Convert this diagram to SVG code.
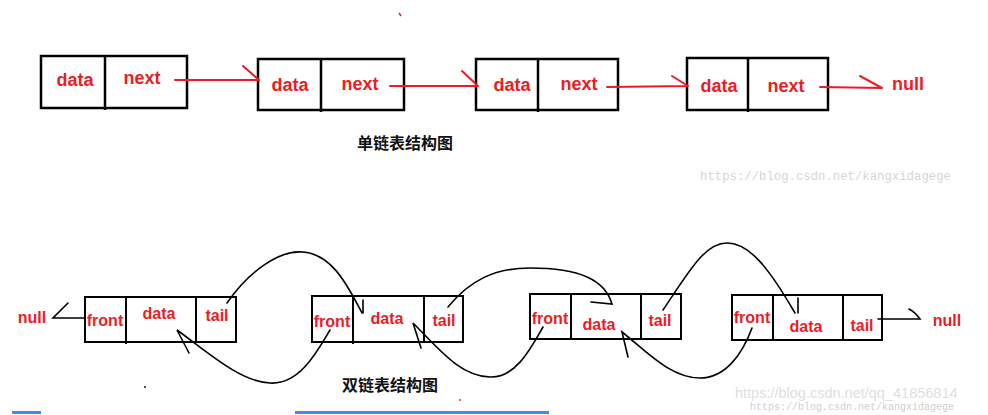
<svg xmlns="http://www.w3.org/2000/svg" width="988" height="415" viewBox="0 0 988 415">
<style>
.box{fill:none;stroke:#000;stroke-width:2.5}
.box2{fill:none;stroke:#000;stroke-width:2}
.t{font-family:"Liberation Sans",Arial,sans-serif;font-weight:bold;fill:#ed1c24;text-anchor:middle;dominant-baseline:central}
.t1{font-size:18px}
.t2{font-size:16px}
.red{fill:none;stroke:#ed1c24;stroke-width:2;stroke-linecap:round}
.blk{fill:none;stroke:#000;stroke-width:1.6;stroke-linecap:round}
.title{font-family:"Noto Sans CJK SC","Noto Sans",sans-serif;font-weight:bold;font-size:16px;fill:#111;text-anchor:middle}
.wm{font-family:"Liberation Mono",monospace;font-size:12.3px;fill:#d6d6d6}
</style>
<rect width="988" height="415" fill="#fff"/>
<g id="s1"><rect class="box" x="41" y="56" width="146" height="52"/><line class="box" x1="105" y1="56" x2="105" y2="110"/><text class="t t1" x="75" y="80">data</text><text class="t t1" x="142" y="78">next</text></g>
<g id="s2"><rect class="box" x="258" y="59" width="146" height="51"/><line class="box" x1="321" y1="59" x2="321" y2="112"/><text class="t t1" x="290" y="85">data</text><text class="t t1" x="360" y="84">next</text></g>
<g id="s3"><rect class="box" x="476" y="59" width="142" height="51"/><line class="box" x1="538" y1="59" x2="538" y2="112"/><text class="t t1" x="512" y="85">data</text><text class="t t1" x="579" y="84">next</text></g>
<g id="s4"><rect class="box" x="687" y="58" width="141" height="52"/><line class="box" x1="748" y1="58" x2="748" y2="112"/><text class="t t1" x="719" y="86">data</text><text class="t t1" x="786" y="86">next</text></g>
<g id="snull"><text class="t t1" x="908" y="84">null</text></g>
<g id="dA"><rect class="box2" x="85" y="297" width="151" height="45"/><line class="box2" x1="126" y1="297" x2="126" y2="344"/><line class="box2" x1="196" y1="297" x2="196" y2="342"/><text class="t t2" x="105" y="320">front</text><text class="t t2" x="159" y="313">data</text><text class="t t2" x="217" y="315">tail</text></g>
<g id="dB"><rect class="box2" x="312" y="296" width="151" height="46"/><line class="box2" x1="353" y1="296" x2="353" y2="344"/><line class="box2" x1="424" y1="296" x2="424" y2="342"/><text class="t t2" x="332" y="321">front</text><text class="t t2" x="387" y="318">data</text><text class="t t2" x="444" y="320">tail</text></g>
<g id="dC"><rect class="box2" x="530" y="294" width="151" height="45"/><line class="box2" x1="571" y1="294" x2="571" y2="340"/><line class="box2" x1="641" y1="294" x2="641" y2="339"/><text class="t t2" x="550" y="318">front</text><text class="t t2" x="599" y="324">data</text><text class="t t2" x="660" y="320">tail</text></g>
<g id="dD"><rect class="box2" x="732" y="295" width="150" height="45"/><line class="box2" x1="773" y1="295" x2="773" y2="341"/><line class="box2" x1="843" y1="295" x2="843" y2="340"/><text class="t t2" x="752" y="317">front</text><text class="t t2" x="806" y="326">data</text><text class="t t2" x="862" y="325">tail</text></g>
<g id="dnullL"><text class="t t2" x="32" y="317">null</text></g>
<g id="dnullR"><text class="t t2" x="947" y="320">null</text></g>
<g id="connectors">
<path class="red" d="M175 80 L259 80 M243 66 L259 80"/>
<path class="red" d="M390 86 L478 86 M462 71 L478 86"/>
<path class="red" d="M607 87 L688 86 M672 76 L688 86"/>
<path class="red" d="M820 87 L882 88 M860 76 L882 88"/>
<path class="blk" d="M85 318 L53 318 L68 303"/>
<path class="blk" d="M878 319 L920 319 Q915 312 909 309"/>
<path class="blk" d="M227 303 C250 270 280 250 303 252 C330 254 345 280 362 313 M363 300 L363 313"/>
<path class="blk" d="M330 330 C318 350 300 385 270 383 C240 382 205 350 177 330 L189 353"/>
<path class="blk" d="M448 307 C470 280 495 268 530 268 C580 268 605 280 612 304 L591 302"/>
<path class="blk" d="M543 327 C530 350 515 378 490 377 C460 376 440 350 413 323 L421 348"/>
<path class="blk" d="M663 310 C690 270 705 243 727 243 C750 243 770 270 795 313 M798 298 L798 313"/>
<path class="blk" d="M752 328 C742 355 725 378 700 378 C670 378 645 350 622 332 L628 357"/>
</g>
<text class="title" x="405" y="149">单链表结构图</text>
<text class="title" x="390" y="391">双链表结构图</text>
<text class="wm" x="700" y="180">https://blog.csdn.net/kangxidagege</text>
<text x="735" y="398" style="font-family:'Liberation Sans',sans-serif;font-size:14.5px;fill:#e0e0e0">https://blog.csdn.net/qq_41856814</text>
<text class="wm" x="750" y="410" style="font-size:10px;fill:#cfcfcf">https://blog.csdn.net/kangxidagege</text>
<rect x="12" y="411" width="29" height="3" fill="#3d8ef0"/>
<rect x="295" y="411" width="254" height="3" fill="#3d8ef0"/>
<path d="M399 13 L401 16" stroke="#ed1c24" stroke-width="1.5"/>
<circle cx="145" cy="387" r="0.9" fill="#000"/>
<circle cx="460" cy="400" r="0.9" fill="#ed1c24"/>
</svg>
